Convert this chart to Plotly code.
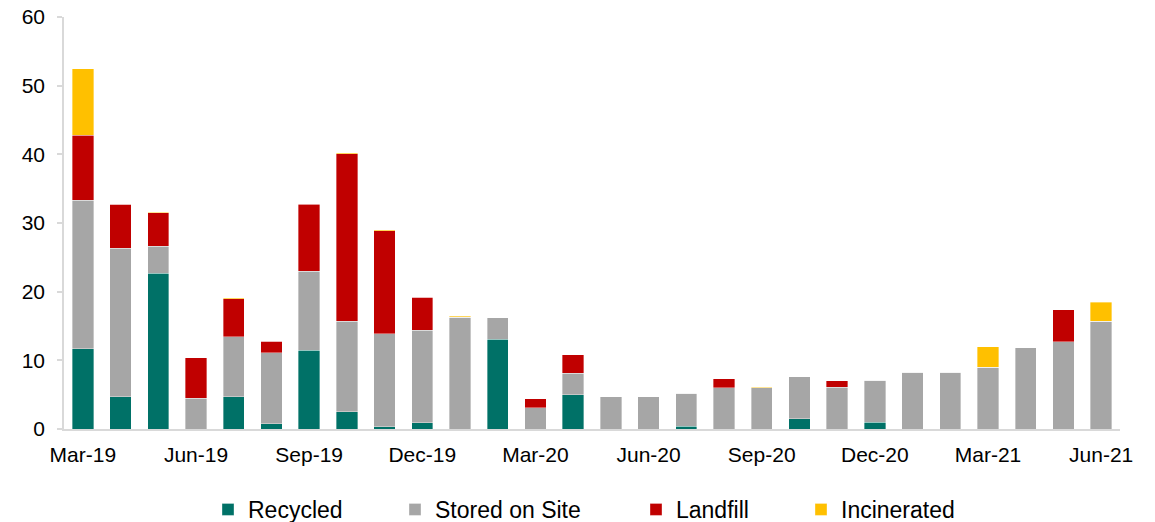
import plotly.graph_objects as go

months = ["Mar-19", "Apr-19", "May-19", "Jun-19", "Jul-19", "Aug-19", "Sep-19", "Oct-19",
          "Nov-19", "Dec-19", "Jan-20", "Feb-20", "Mar-20", "Apr-20", "May-20", "Jun-20",
          "Jul-20", "Aug-20", "Sep-20", "Oct-20", "Nov-20", "Dec-20", "Jan-21", "Feb-21",
          "Mar-21", "Apr-21", "May-21", "Jun-21"]

recycled = [11.7, 4.7, 22.7, 0, 4.7, 0.8, 11.5, 2.5, 0.3, 0.9, 0, 13.1, 0, 5.0,
            0, 0, 0.4, 0, 0, 1.5, 0, 1.0, 0, 0, 0, 0, 0, 0]
stored = [21.6, 21.6, 3.9, 4.5, 8.7, 10.3, 11.5, 13.2, 13.6, 13.5, 16.3, 3.1, 3.1, 3.1,
          4.7, 4.7, 4.8, 6.0, 6.0, 6.1, 6.1, 6.1, 8.3, 8.3, 9.0, 11.8, 12.7, 15.7]
landfill = [9.5, 6.4, 4.9, 5.9, 5.6, 1.7, 9.7, 24.4, 15.0, 4.8, 0, 0, 1.3, 2.7,
            0, 0, 0, 1.3, 0, 0, 0.9, 0, 0, 0, 0, 0, 4.7, 0]
incinerated = [9.7, 0, 0.1, 0, 0.1, 0, 0.1, 0.1, 0.1, 0, 0.1, 0, 0, 0,
               0, 0, 0, 0, 0.1, 0, 0, 0, 0, 0, 3.0, 0, 0, 2.75]

tick_labels = ["Mar-19", "Jun-19", "Sep-19", "Dec-19", "Mar-20", "Jun-20",
               "Sep-20", "Dec-20", "Mar-21", "Jun-21"]

series = [
    ("Recycled", recycled, "#007167", "legend"),
    ("Stored on Site", stored, "#A6A6A6", "legend2"),
    ("Landfill", landfill, "#C00000", "legend3"),
    ("Incinerated", incinerated, "#FFC000", "legend4"),
]

FONT = "Liberation Sans, Arial, sans-serif"

fig = go.Figure()
for name, vals, color, leg in series:
    fig.add_trace(go.Bar(
        x=months, y=vals, name=name, legend=leg,
        marker=dict(color=color, line=dict(color="rgba(255,255,255,0.6)", width=0.6)),
        hoverinfo="x+y+name",
    ))

W, H = 1155, 522
ml, mr, mt, mb = 64, 35, 17, 93
pw = W - ml - mr


def leg(px):
    return dict(orientation="h", x=(px - ml) / pw, xanchor="left",
                y=(H - 488) / H, yref="container", yanchor="top",
                font=dict(family=FONT, size=23, color="#000000"),
                bgcolor="rgba(0,0,0,0)", itemwidth=30)


fig.update_layout(
    width=W, height=H,
    margin=dict(l=ml, r=mr, t=mt, b=mb, autoexpand=False),
    barmode="stack",
    bargap=0.434,
    plot_bgcolor="white",
    paper_bgcolor="white",
    font=dict(family=FONT, size=21, color="#000000"),
    showlegend=True,
    legend=leg(208),
    legend2=leg(395),
    legend3=leg(636),
    legend4=leg(801),
    xaxis=dict(
        type="category",
        categoryorder="array", categoryarray=months,
        tickmode="array", tickvals=tick_labels, ticktext=tick_labels,
        range=[-0.5, len(months) - 0.5],
        showline=True, linecolor="#D9D9D9", linewidth=2,
        ticks="", showgrid=False, zeroline=False,
        tickfont=dict(family=FONT, size=21, color="#000000"),
        ticklabelstandoff=6, automargin=False,
    ),
    yaxis=dict(
        range=[0, 60], tickvals=[0, 10, 20, 30, 40, 50, 60],
        showline=True, linecolor="#D9D9D9", linewidth=1.5,
        ticks="outside", ticklen=5, tickcolor="#D9D9D9", tickwidth=1.5,
        showgrid=False, zeroline=False,
        tickfont=dict(family=FONT, size=21, color="#000000"),
        ticklabelstandoff=8, automargin=False,
    ),
)

fig.write_html("out.html")
